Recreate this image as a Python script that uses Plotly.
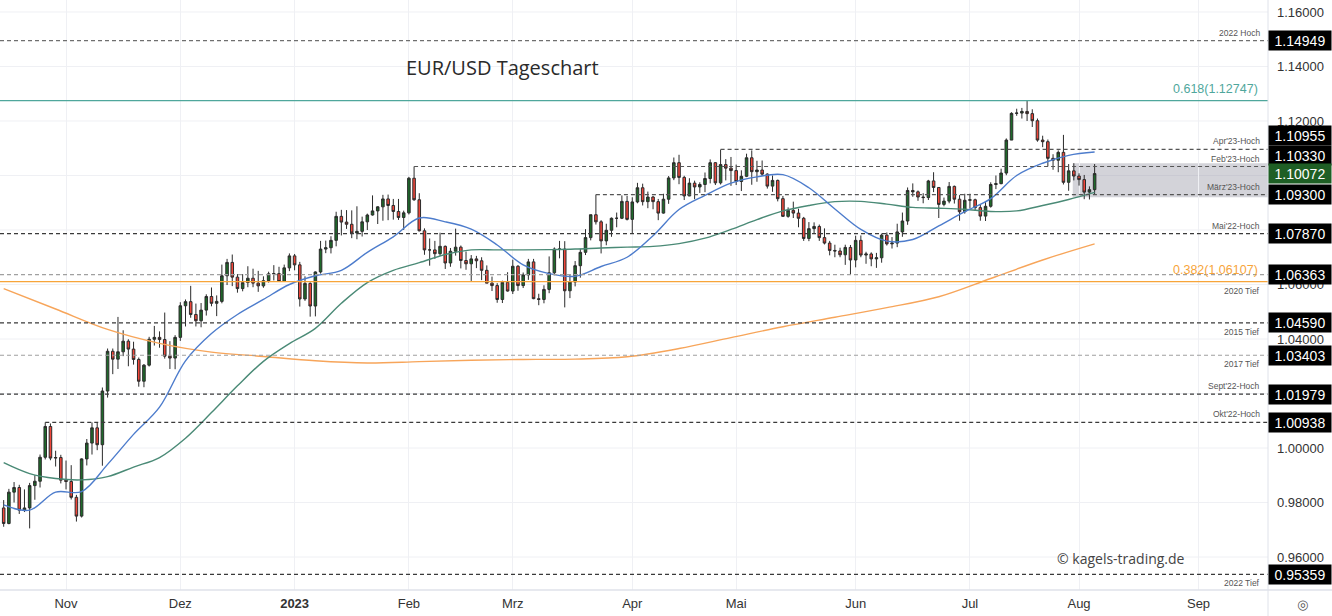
import pandas as pd
import plotly.graph_objects as go

# ---------------- data ----------------
dates = pd.bdate_range("2022-10-14", "2023-08-04")

opens = [
    # Oct 2022
    0.9780, 0.9723, 0.9838, 0.9855, 0.9772, 0.9780, 0.9862, 0.9878, 0.9966, 1.0079, 0.9963, 0.9965,
    # Nov
    0.9882, 0.9877, 0.9819, 0.9750, 0.9960, 1.0018, 1.0074, 1.0012, 1.0209, 1.0355, 1.0326, 1.0353,
    1.0392, 1.0363, 1.0325, 1.0245, 1.0304, 1.0399, 1.0406, 1.0398, 1.0337, 1.0330,
    # Dec
    1.0406, 1.0522, 1.0537, 1.0490, 1.0467, 1.0506, 1.0556, 1.0531, 1.0538, 1.0632, 1.0681, 1.0627,
    1.0585, 1.0607, 1.0623, 1.0605, 1.0595, 1.0614, 1.0639, 1.0640, 1.0611, 1.0661,
    # Jan 2023
    1.0705, 1.0672, 1.0547, 1.0604, 1.0521, 1.0646, 1.0730, 1.0735, 1.0762, 1.0850, 1.0829, 1.0821,
    1.0789, 1.0795, 1.0830, 1.0855, 1.0870, 1.0885, 1.0914, 1.0890, 1.0868, 1.0846,
    # Feb
    1.0863, 1.0990, 1.0911, 1.0797, 1.0727, 1.0727, 1.0713, 1.0740, 1.0679, 1.0722, 1.0737, 1.0688,
    1.0676, 1.0694, 1.0687, 1.0652, 1.0605, 1.0596, 1.0545, 1.0608,
    # Mar
    1.0576, 1.0667, 1.0596, 1.0635, 1.0683, 1.0548, 1.0545, 1.0582, 1.0643, 1.0730, 1.0730, 1.0577,
    1.0609, 1.0669, 1.0718, 1.0772, 1.0856, 1.0830, 1.0760, 1.0799, 1.0843, 1.0843, 1.0905,
    # Apr
    1.0839, 1.0903, 1.0955, 1.0904, 1.0921, 1.0904, 1.0862, 1.0913, 1.0991, 1.1047, 1.0993, 1.0925,
    1.0972, 1.0958, 1.0967, 1.0989, 1.1047, 1.0973, 1.1040, 1.1027,
    # May
    1.1018, 1.0978, 1.0997, 1.1065, 1.1014, 1.1020, 1.1005, 1.0961, 1.0982, 1.0915, 1.0850, 1.0872,
    1.0862, 1.0843, 1.0769, 1.0805, 1.0813, 1.0772, 1.0752, 1.0725, 1.0723, 1.0709, 1.0736,
    # Jun
    1.0690, 1.0762, 1.0708, 1.0712, 1.0694, 1.0698, 1.0781, 1.0749, 1.0752, 1.0793, 1.0833, 1.0945,
    1.0940, 1.0921, 1.0919, 1.0980, 1.0956, 1.0894, 1.0906, 1.0960, 1.0913, 1.0867,
    # Jul
    1.0909, 1.0911, 1.0882, 1.0851, 1.0887, 1.0967, 1.0970, 1.1009, 1.1130, 1.1228, 1.1229, 1.1235,
    1.1227, 1.1201, 1.1130, 1.1124, 1.1063, 1.1056, 1.1085, 1.0975, 1.1017,
    # Aug
    1.0998, 1.0985, 1.0939, 1.0948,
]

highs = [
    0.9809, 0.9850, 0.9875, 0.9865, 0.9848, 0.9872, 0.9900, 0.9976, 1.0094, 1.0090, 0.9990, 0.9975,
    0.9954, 0.9937, 0.9828, 0.9962, 1.0033, 1.0094, 1.0094, 1.0222, 1.0365, 1.0365, 1.0481, 1.0432,
    1.0399, 1.0390, 1.0332, 1.0308, 1.0408, 1.0448, 1.0428, 1.0497, 1.0392, 1.0414,
    1.0535, 1.0545, 1.0595, 1.0530, 1.0532, 1.0564, 1.0589, 1.0560, 1.0673, 1.0694, 1.0710, 1.0638,
    1.0638, 1.0667, 1.0658, 1.0650, 1.0630, 1.0647, 1.0671, 1.0665, 1.0673, 1.0714,
    1.0712, 1.0683, 1.0630, 1.0608, 1.0648, 1.0760, 1.0761, 1.0777, 1.0867, 1.0874, 1.0873, 1.0872,
    1.0887, 1.0849, 1.0860, 1.0927, 1.0887, 1.0929, 1.0930, 1.0914, 1.0914, 1.0871,
    1.0995, 1.1033, 1.0935, 1.0806, 1.0769, 1.0760, 1.0790, 1.0743, 1.0734, 1.0805, 1.0743, 1.0721,
    1.0708, 1.0705, 1.0700, 1.0670, 1.0629, 1.0605, 1.0614, 1.0645,
    1.0691, 1.0671, 1.0644, 1.0694, 1.0694, 1.0566, 1.0597, 1.0703, 1.0736, 1.0760, 1.0759, 1.0635,
    1.0686, 1.0731, 1.0803, 1.0856, 1.0930, 1.0836, 1.0823, 1.0846, 1.0864, 1.0927, 1.0925,
    1.0920, 1.0973, 1.0970, 1.0941, 1.0925, 1.0914, 1.0933, 1.0998, 1.1066, 1.1076, 1.0999, 1.0990,
    1.0981, 1.0975, 1.1011, 1.1059, 1.1049, 1.1095, 1.1060, 1.1068,
    1.1040, 1.1019, 1.1080, 1.1092, 1.1054, 1.1055, 1.1008, 1.1000, 1.0985, 1.0925, 1.0883, 1.0904,
    1.0878, 1.0848, 1.0829, 1.0828, 1.0820, 1.0806, 1.0760, 1.0746, 1.0735, 1.0746, 1.0745,
    1.0779, 1.0780, 1.0720, 1.0718, 1.0716, 1.0787, 1.0791, 1.0774, 1.0823, 1.0864, 1.0956, 1.0971,
    1.0945, 1.0935, 1.0984, 1.1012, 1.0957, 1.0919, 1.0976, 1.0963, 1.0928, 1.0933,
    1.0933, 1.0915, 1.0892, 1.0902, 1.0975, 1.1000, 1.1025, 1.1136, 1.1232, 1.1245, 1.1248, 1.1276,
    1.1243, 1.1209, 1.1146, 1.1132, 1.1078, 1.1092, 1.1149, 1.1042, 1.1045,
    1.1008, 1.1002, 1.0960, 1.1042,
]

lows = [
    0.9711, 0.9720, 0.9800, 0.9758, 0.9765, 0.9705, 0.9810, 0.9855, 0.9958, 0.9955, 0.9932, 0.9870,
    0.9848, 0.9811, 0.9730, 0.9745, 0.9936, 0.9976, 0.9992, 0.9935, 1.0185, 1.0271, 1.0290, 1.0337,
    1.0300, 1.0306, 1.0225, 1.0223, 1.0299, 1.0376, 1.0368, 1.0328, 1.0290, 1.0289,
    1.0393, 1.0446, 1.0478, 1.0446, 1.0443, 1.0486, 1.0520, 1.0484, 1.0531, 1.0598, 1.0594, 1.0570,
    1.0575, 1.0590, 1.0590, 1.0573, 1.0588, 1.0607, 1.0615, 1.0609, 1.0610, 1.0649,
    1.0652, 1.0519, 1.0540, 1.0482, 1.0483, 1.0640, 1.0715, 1.0714, 1.0740, 1.0780, 1.0804, 1.0770,
    1.0766, 1.0776, 1.0800, 1.0853, 1.0822, 1.0834, 1.0836, 1.0838, 1.0837, 1.0800,
    1.0857, 1.0907, 1.0795, 1.0709, 1.0669, 1.0694, 1.0705, 1.0657, 1.0665, 1.0706, 1.0659, 1.0654,
    1.0613, 1.0660, 1.0616, 1.0605, 1.0576, 1.0533, 1.0532, 1.0574,
    1.0565, 1.0577, 1.0587, 1.0617, 1.0546, 1.0524, 1.0531, 1.0568, 1.0634, 1.0696, 1.0516, 1.0550,
    1.0593, 1.0625, 1.0708, 1.0762, 1.0820, 1.0714, 1.0744, 1.0775, 1.0810, 1.0840, 1.0835,
    1.0788, 1.0898, 1.0890, 1.0880, 1.0876, 1.0836, 1.0860, 1.0896, 1.0983, 1.0968, 1.0910, 1.0924,
    1.0913, 1.0936, 1.0939, 1.0971, 1.0965, 1.0967, 1.0982, 1.0962,
    1.0965, 1.0943, 1.0994, 1.0966, 1.0977, 1.0998, 1.0952, 1.0940, 1.0905, 1.0848, 1.0845, 1.0844,
    1.0810, 1.0760, 1.0759, 1.0785, 1.0760, 1.0747, 1.0707, 1.0700, 1.0700, 1.0672, 1.0635,
    1.0663, 1.0700, 1.0676, 1.0667, 1.0661, 1.0680, 1.0743, 1.0732, 1.0737, 1.0775, 1.0819, 1.0922,
    1.0907, 1.0898, 1.0910, 1.0939, 1.0844, 1.0887, 1.0898, 1.0897, 1.0834, 1.0860,
    1.0879, 1.0870, 1.0834, 1.0833, 1.0882, 1.0950, 1.0968, 1.1001, 1.1130, 1.1219, 1.1209, 1.1200,
    1.1178, 1.1124, 1.1104, 1.1034, 1.1021, 1.1012, 1.0967, 1.0944, 1.0982,
    1.0963, 1.0913, 1.0912, 1.0931,
]

closes = [
    0.9723, 0.9838, 0.9855, 0.9772, 0.9780, 0.9862, 0.9878, 0.9966, 1.0079, 0.9963, 0.9965, 0.9882,
    0.9877, 0.9819, 0.9750, 0.9960, 1.0018, 1.0074, 1.0012, 1.0209, 1.0355, 1.0326, 1.0353, 1.0392,
    1.0363, 1.0325, 1.0245, 1.0304, 1.0399, 1.0406, 1.0398, 1.0337, 1.0330, 1.0406,
    1.0522, 1.0537, 1.0490, 1.0467, 1.0506, 1.0556, 1.0531, 1.0538, 1.0632, 1.0681, 1.0627, 1.0585,
    1.0607, 1.0623, 1.0605, 1.0595, 1.0614, 1.0639, 1.0640, 1.0611, 1.0661, 1.0705,
    1.0672, 1.0547, 1.0604, 1.0521, 1.0646, 1.0730, 1.0735, 1.0762, 1.0850, 1.0829, 1.0821, 1.0789,
    1.0795, 1.0830, 1.0855, 1.0870, 1.0885, 1.0914, 1.0890, 1.0868, 1.0846, 1.0863,
    1.0990, 1.0911, 1.0797, 1.0727, 1.0727, 1.0713, 1.0740, 1.0679, 1.0722, 1.0737, 1.0688, 1.0676,
    1.0694, 1.0687, 1.0652, 1.0605, 1.0596, 1.0545, 1.0608, 1.0576,
    1.0667, 1.0596, 1.0635, 1.0683, 1.0548, 1.0545, 1.0582, 1.0643, 1.0730, 1.0730, 1.0577, 1.0609,
    1.0669, 1.0718, 1.0772, 1.0856, 1.0830, 1.0760, 1.0799, 1.0843, 1.0843, 1.0905, 1.0839,
    1.0903, 1.0955, 1.0904, 1.0921, 1.0904, 1.0862, 1.0913, 1.0991, 1.1047, 1.0993, 1.0925, 1.0972,
    1.0958, 1.0967, 1.0989, 1.1047, 1.0973, 1.1040, 1.1027, 1.1018,
    1.0978, 1.0997, 1.1065, 1.1014, 1.1020, 1.1005, 1.0961, 1.0982, 1.0915, 1.0850, 1.0872, 1.0862,
    1.0843, 1.0769, 1.0805, 1.0813, 1.0772, 1.0752, 1.0725, 1.0723, 1.0709, 1.0736, 1.0690,
    1.0762, 1.0708, 1.0712, 1.0694, 1.0698, 1.0781, 1.0749, 1.0752, 1.0793, 1.0833, 1.0945, 1.0940,
    1.0921, 1.0919, 1.0980, 1.0956, 1.0894, 1.0906, 1.0960, 1.0913, 1.0867, 1.0909,
    1.0911, 1.0882, 1.0851, 1.0887, 1.0967, 1.0970, 1.1009, 1.1130, 1.1228, 1.1229, 1.1235, 1.1227,
    1.1201, 1.1130, 1.1124, 1.1063, 1.1056, 1.1085, 1.0975, 1.1017, 1.0998,
    1.0985, 1.0939, 1.0948, 1.1007,
]

# moving averages, one value every 5th bar (blue, green)
ma_fast = [0.9791, 0.9772, 0.9838, 0.9840, 0.9940, 1.0050, 1.0150, 1.0320, 1.0420, 1.0490, 1.0545,
           1.0600, 1.0632, 1.0652, 1.0718, 1.0775, 1.0844, 1.0830, 1.0803, 1.0745, 1.0672, 1.0640,
           1.0630, 1.0666, 1.0700, 1.0779, 1.0875, 1.0927, 1.0972, 1.0995, 1.1003, 1.0955, 1.0877,
           1.0802, 1.0759, 1.0765, 1.0815, 1.0867, 1.0915, 1.1000, 1.1045, 1.1074, 1.1086]
ma_mid = [0.9946, 0.9906, 0.9888, 0.9883, 0.9895, 0.9930, 0.9965, 1.0036, 1.0130, 1.0228, 1.0318,
          1.0383, 1.0439, 1.0531, 1.0607, 1.0652, 1.0680, 1.0710, 1.0727, 1.0727, 1.0727, 1.0728,
          1.0730, 1.0734, 1.0737, 1.0740, 1.0750, 1.0770, 1.0802, 1.0838, 1.0870, 1.0890, 1.0904,
          1.0905, 1.0895, 1.0883, 1.0880, 1.0876, 1.0868, 1.0870, 1.0890, 1.0912, 1.0938]
# slow average, one value every 10th bar (orange)
ma_slow = [1.0585, 1.0510, 1.0435, 1.0384, 1.0352, 1.0336, 1.0320, 1.0312, 1.0317, 1.0322, 1.0325,
           1.0326, 1.0335, 1.0365, 1.0405, 1.0445, 1.0480, 1.0515, 1.0555, 1.0622, 1.0690, 1.0749]

month_ticks = ["2022-11-01", "2022-12-01", "2023-01-02", "2023-02-01", "2023-03-01", "2023-04-03",
               "2023-05-01", "2023-06-01", "2023-07-03", "2023-08-01", "2023-09-01"]
month_labels = ["Nov", "Dez", "<b>2023</b>", "Feb", "Mrz", "Apr", "Mai", "Jun", "Jul", "Aug", "Sep"]

# price-scale ticks that stay visible next to the price boxes
y_ticks = [0.96, 0.98, 1.00, 1.04, 1.06, 1.12, 1.14, 1.16]
y_grid = [0.96, 0.98, 1.00, 1.02, 1.04, 1.06, 1.08, 1.10, 1.12, 1.14, 1.16]

levels = [1.14949, 1.10955, 1.10330, 1.09300, 1.07870, 1.06363, 1.04590, 1.03403, 1.01979, 1.00938, 0.95359]
level_names = ["2022 Hoch", "Apr'23-Hoch", "Feb'23-Hoch", "März'23-Hoch", "Mai'22-Hoch", "2020 Tief",
               "2015 Tief", "2017 Tief", "Sept'22-Hoch", "Okt'22-Hoch", "2022 Tief"]
level_starts = [None, "2023-04-26", "2023-02-02", "2023-03-23", None, None, None, None, None,
                "2022-10-26", None]
level_colors = ["#6f6f6f", "#555555", "#555555", "#555555", "#3a3a3a", "#a0a0a0", "#3a3a3a", "#a0a0a0",
                "#3a3a3a", "#3a3a3a", "#3a3a3a"]
level_label_side = ["above", "above", "above", "above", "above", "below", "below", "below", "above",
                    "above", "below"]

fib_values = [1.12747, 1.06107]
fib_labels = ["0.618(1.12747)", "0.382(1.06107)"]
fib_colors = ["#4fa79c", "#f7a53a"]

box_values = [1.14949, 1.10955, 1.10330, 1.10072, 1.09300, 1.07870, 1.06363, 1.04590, 1.03403,
              1.01979, 1.00938, 0.95359]
box_colors = ["#000000", "#000000", "#000000", "#1f5f25", "#000000", "#000000", "#000000", "#000000",
              "#000000", "#000000", "#000000", "#000000"]
box_shift = [0, 14, 11, 0, 0, 0, 0, 0, 0, 0, 0, 0]

zone_low, zone_high = 1.0920, 1.1045
zone_start = "2023-07-28 19:00"

x_left, x_right = "2022-10-13 07:00", "2023-09-20 09:00"
y_low, y_high = 0.94789, 1.16440

# ---------------- figure ----------------
fig = go.Figure()

fig.add_trace(go.Candlestick(
    x=dates, open=opens, high=highs, low=lows, close=closes,
    increasing=dict(fillcolor="#1e6a2a", line=dict(color="#2b2b2b", width=1)),
    decreasing=dict(fillcolor="#f0463a", line=dict(color="#2b2b2b", width=1)),
    whiskerwidth=0, hoverinfo="skip", showlegend=False,
))

fig.add_trace(go.Scatter(x=dates[::10], y=ma_slow, mode="lines",
                         line=dict(color="#f7a55a", width=1.4, shape="spline"),
                         hoverinfo="skip", showlegend=False))
fig.add_trace(go.Scatter(x=dates[::5], y=ma_mid, mode="lines",
                         line=dict(color="#4a8a76", width=1.4, shape="spline"),
                         hoverinfo="skip", showlegend=False))
fig.add_trace(go.Scatter(x=dates[::5], y=ma_fast, mode="lines",
                         line=dict(color="#4d7ccc", width=1.4, shape="spline"),
                         hoverinfo="skip", showlegend=False))

shapes = []
for g in y_grid:
    shapes.append(dict(type="line", xref="paper", yref="y", x0=0, x1=1, y0=g, y1=g,
                       line=dict(color="#eff0f4", width=1), layer="below"))
shapes.append(dict(type="rect", xref="x", yref="y", x0=zone_start, x1=x_right,
                   y0=zone_low, y1=zone_high, fillcolor="rgba(150,150,165,0.42)",
                   line=dict(width=0), layer="below"))

for v, start, col in zip(levels, level_starts, level_colors):
    if start is None:
        shapes.append(dict(type="line", xref="paper", yref="y", x0=0, x1=1, y0=v, y1=v,
                           line=dict(color=col, width=1.2, dash="4px,3px")))
    else:
        shapes.append(dict(type="line", xref="x", yref="y", x0=start, x1=x_right, y0=v, y1=v,
                           line=dict(color=col, width=1.2, dash="4px,3px")))

for v, col in zip(fib_values, fib_colors):
    shapes.append(dict(type="line", xref="paper", yref="y", x0=0, x1=1, y0=v, y1=v,
                       line=dict(color=col, width=1.3)))

shapes.append(dict(type="line", xref="paper", yref="paper", x0=1, x1=1, y0=-0.05, y1=1,
                   line=dict(color="#dfe2ea", width=1)))
shapes.append(dict(type="line", xref="paper", yref="paper", x0=0, x1=1.06, y0=0, y1=0,
                   line=dict(color="#dfe2ea", width=1.5)))

annotations = []
for v, name, side in zip(levels, level_names, level_label_side):
    is2020 = name == "2020 Tief"
    annotations.append(dict(
        x=1, xref="paper", xanchor="right", xshift=-6,
        y=fib_values[1] if is2020 else v, yref="y",
        yanchor="bottom" if side == "above" else "top",
        yshift=1 if side == "above" else -2,
        text=name, showarrow=False,
        font=dict(family="Liberation Sans, Arial", size=8.5, color="#555555")))

for v, lab, col in zip(fib_values, fib_labels, fib_colors):
    annotations.append(dict(x=1, xref="paper", xanchor="right", xshift=-8, y=v, yref="y",
                            yanchor="bottom", yshift=3, text=lab, showarrow=False,
                            font=dict(family="Liberation Sans, Arial", size=12.5, color=col)))

for v, bg, sh in zip(box_values, box_colors, box_shift):
    annotations.append(dict(x=1, xref="paper", xanchor="left", y=v, yref="y", yanchor="middle",
                            yshift=sh, text=f"{v:.5f}", showarrow=False, bgcolor=bg,
                            width=60, height=17, borderpad=1, align="center",
                            font=dict(family="Liberation Sans, Arial", size=14, color="white")))

annotations.append(dict(x=0.396, y=0.885, xref="paper", yref="paper", xanchor="center",
                        yanchor="middle", text="EUR/USD Tageschart", showarrow=False,
                        font=dict(family="Open Sans, Liberation Sans", size=20, color="#2a2a2a")))
annotations.append(dict(x=0.884, y=0.054, xref="paper", yref="paper", xanchor="center",
                        yanchor="middle", text="© kagels-trading.de", showarrow=False,
                        font=dict(family="Open Sans, Liberation Sans", size=14, color="#444444")))
annotations.append(dict(x=1, y=-0.024, xref="paper", yref="paper", xanchor="center", xshift=34,
                        yanchor="middle", text="◎", showarrow=False,
                        font=dict(family="DejaVu Sans", size=13, color="#555555")))

fig.update_layout(
    template="none",
    width=1332, height=616,
    margin=dict(l=0, r=64, t=0, b=26, autoexpand=False),
    paper_bgcolor="white", plot_bgcolor="white",
    shapes=shapes, annotations=annotations,
    showlegend=False,
    xaxis=dict(
        type="date", range=[x_left, x_right],
        rangebreaks=[dict(bounds=["sat", "mon"])],
        rangeslider=dict(visible=False),
        tickmode="array", tickvals=month_ticks, ticktext=month_labels,
        showgrid=True, gridcolor="#eff0f4", gridwidth=1,
        zeroline=False, showline=False, ticks="", automargin=False,
        ticklabelstandoff=4,
        tickfont=dict(family="Liberation Sans, Arial", size=13, color="#333333"),
        fixedrange=True,
    ),
    yaxis=dict(
        side="right", range=[y_low, y_high],
        tickmode="array", tickvals=y_ticks, tickformat=".5f",
        showgrid=False,
        zeroline=False, showline=False, ticks="", automargin=False,
        ticklabelstandoff=8,
        tickfont=dict(family="Liberation Sans, Arial", size=13, color="#333333"),
        fixedrange=True,
    ),
)

fig.write_html(
    "out.html",
    config={"displayModeBar": False},
    post_script="document.body.style.margin='0px';document.body.style.overflow='hidden';",
)
